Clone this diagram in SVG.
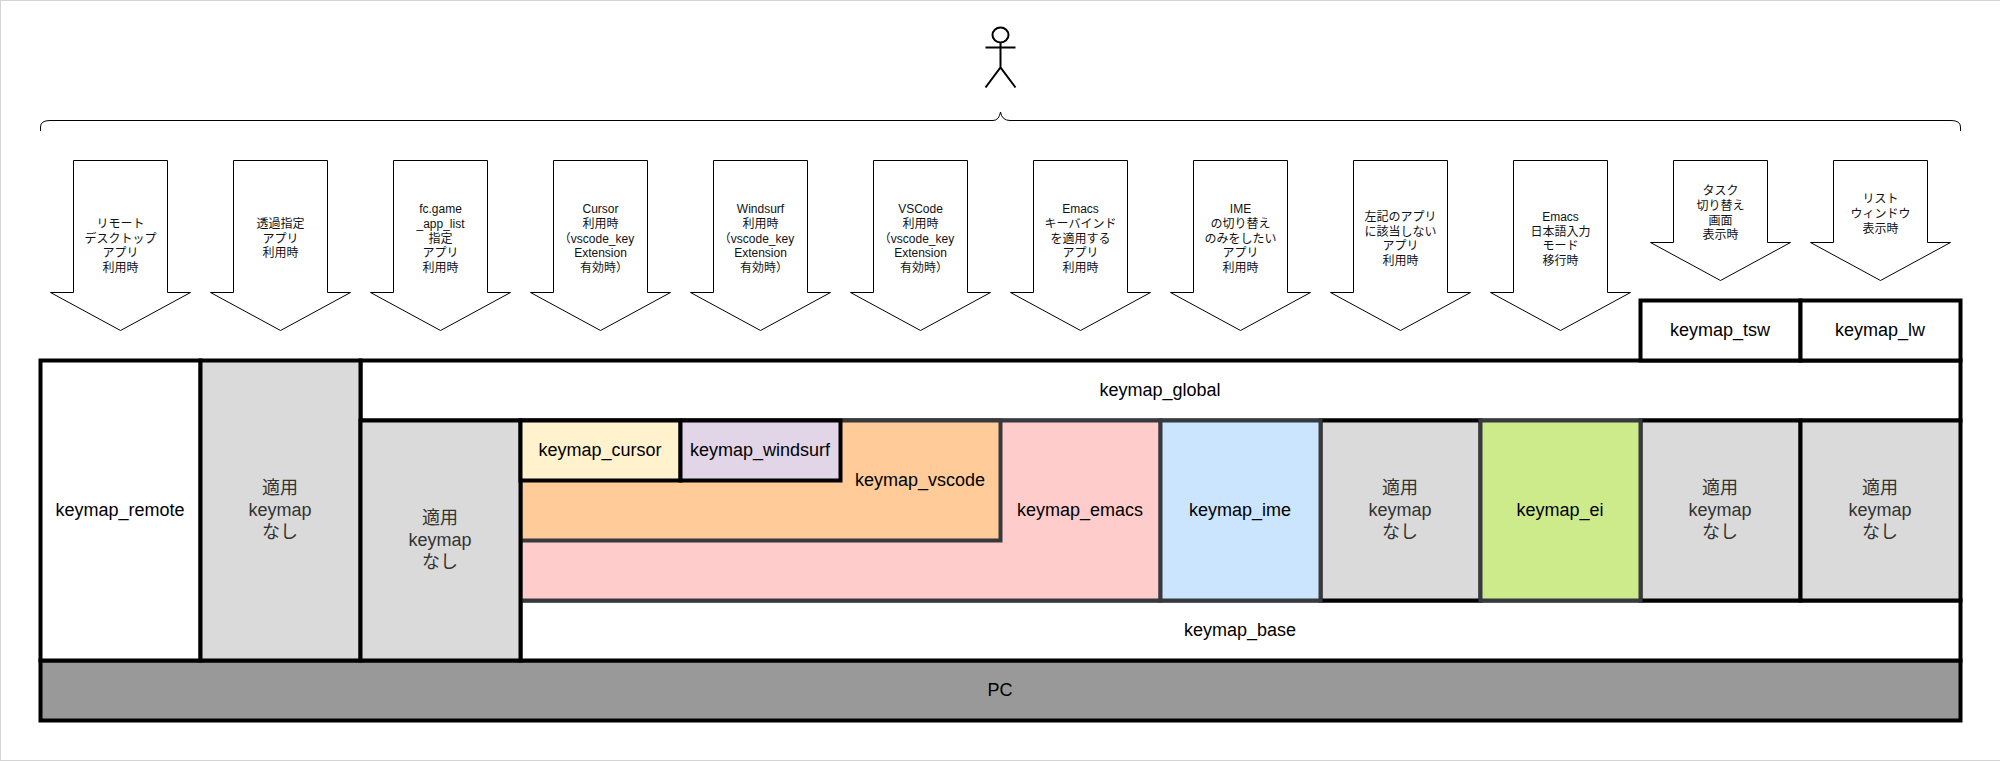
<svg xmlns="http://www.w3.org/2000/svg" width="2000" height="761" viewBox="0 0 2000 761">
<style>
text{font-family:"Liberation Sans","Noto Sans CJK JP",sans-serif;text-anchor:middle;fill:#000}
.s{font-size:12px;fill:#111}
.b{font-size:18px}
.g{fill:#333}
.a{fill:#fff;stroke:#000;stroke-width:1}
.bk{stroke:#000;stroke-width:4}
.dk{stroke:#36393d;stroke-width:4}
.n{fill:#dadada}
</style>
<rect id="frame" x="0.5" y="0.5" width="2000" height="760" fill="#fff" stroke="#d4d4d4" stroke-width="1"/>
<g id="actor" fill="none" stroke="#000" stroke-width="2">
<ellipse cx="1000.5" cy="35" rx="8" ry="7.5"/>
<path d="M1000.5 42.5V67.5M985.5 47.5H1015.5M985.5 87.5L1000.5 67.5L1015.5 87.5"/>
</g>
<g id="brace"><path d="M40.5 131V127Q40.5 120.5 50 120.5H993Q999 120.5 1000.5 112Q1002 120.5 1010 120.5H1951Q1960.5 120.5 1960.5 127V131" fill="none" stroke="#000" stroke-width="1"/></g>
<g id="connectors"></g>
<g id="arrow-remote"><polygon class="a" points="73.5,160.5 167.5,160.5 167.5,292.5 190.5,292.5 120.5,330.5 50.5,292.5 73.5,292.5"/><text class="s" x="120.5" y="228">リモート</text><text class="s" x="120.5" y="242.6">デスクトップ</text><text class="s" x="120.5" y="257.2">アプリ</text><text class="s" x="120.5" y="271.8">利用時</text></g>
<g id="arrow-passthrough"><polygon class="a" points="233.5,160.5 327.5,160.5 327.5,292.5 350.5,292.5 280.5,330.5 210.5,292.5 233.5,292.5"/><text class="s" x="280.5" y="228">透過指定</text><text class="s" x="280.5" y="242.6">アプリ</text><text class="s" x="280.5" y="257.2">利用時</text></g>
<g id="arrow-game"><polygon class="a" points="393.5,160.5 487.5,160.5 487.5,292.5 510.5,292.5 440.5,330.5 370.5,292.5 393.5,292.5"/><text class="s" x="440.5" y="213.4">fc.game</text><text class="s" x="440.5" y="228">_app_list</text><text class="s" x="440.5" y="242.6">指定</text><text class="s" x="440.5" y="257.2">アプリ</text><text class="s" x="440.5" y="271.8">利用時</text></g>
<g id="arrow-cursor"><polygon class="a" points="553.5,160.5 647.5,160.5 647.5,292.5 670.5,292.5 600.5,330.5 530.5,292.5 553.5,292.5"/><text class="s" x="600.5" y="213.4">Cursor</text><text class="s" x="600.5" y="228">利用時</text><text class="s" x="596.5" y="242.6">（vscode_key</text><text class="s" x="600.5" y="257.2">Extension</text><text class="s" x="604" y="271.8">有効時）</text></g>
<g id="arrow-windsurf"><polygon class="a" points="713.5,160.5 807.5,160.5 807.5,292.5 830.5,292.5 760.5,330.5 690.5,292.5 713.5,292.5"/><text class="s" x="760.5" y="213.4">Windsurf</text><text class="s" x="760.5" y="228">利用時</text><text class="s" x="756.5" y="242.6">（vscode_key</text><text class="s" x="760.5" y="257.2">Extension</text><text class="s" x="764" y="271.8">有効時）</text></g>
<g id="arrow-vscode"><polygon class="a" points="873.5,160.5 967.5,160.5 967.5,292.5 990.5,292.5 920.5,330.5 850.5,292.5 873.5,292.5"/><text class="s" x="920.5" y="213.4">VSCode</text><text class="s" x="920.5" y="228">利用時</text><text class="s" x="916.5" y="242.6">（vscode_key</text><text class="s" x="920.5" y="257.2">Extension</text><text class="s" x="924" y="271.8">有効時）</text></g>
<g id="arrow-emacs"><polygon class="a" points="1033.5,160.5 1127.5,160.5 1127.5,292.5 1150.5,292.5 1080.5,330.5 1010.5,292.5 1033.5,292.5"/><text class="s" x="1080.5" y="213.4">Emacs</text><text class="s" x="1080.5" y="228">キーバインド</text><text class="s" x="1080.5" y="242.6">を適用する</text><text class="s" x="1080.5" y="257.2">アプリ</text><text class="s" x="1080.5" y="271.8">利用時</text></g>
<g id="arrow-ime"><polygon class="a" points="1193.5,160.5 1287.5,160.5 1287.5,292.5 1310.5,292.5 1240.5,330.5 1170.5,292.5 1193.5,292.5"/><text class="s" x="1240.5" y="213.4">IME</text><text class="s" x="1240.5" y="228">の切り替え</text><text class="s" x="1240.5" y="242.6">のみをしたい</text><text class="s" x="1240.5" y="257.2">アプリ</text><text class="s" x="1240.5" y="271.8">利用時</text></g>
<g id="arrow-other"><polygon class="a" points="1353.5,160.5 1447.5,160.5 1447.5,292.5 1470.5,292.5 1400.5,330.5 1330.5,292.5 1353.5,292.5"/><text class="s" x="1400.5" y="221">左記のアプリ</text><text class="s" x="1400.5" y="235.6">に該当しない</text><text class="s" x="1400.5" y="250.2">アプリ</text><text class="s" x="1400.5" y="264.8">利用時</text></g>
<g id="arrow-ei"><polygon class="a" points="1513.5,160.5 1607.5,160.5 1607.5,292.5 1630.5,292.5 1560.5,330.5 1490.5,292.5 1513.5,292.5"/><text class="s" x="1560.5" y="221">Emacs</text><text class="s" x="1560.5" y="235.6">日本語入力</text><text class="s" x="1560.5" y="250.2">モード</text><text class="s" x="1560.5" y="264.8">移行時</text></g>
<g id="arrow-tsw"><polygon class="a" points="1673.5,160.5 1767.5,160.5 1767.5,242.5 1790.5,242.5 1720.5,280.5 1650.5,242.5 1673.5,242.5"/><text class="s" x="1720.5" y="195.4">タスク</text><text class="s" x="1720.5" y="210">切り替え</text><text class="s" x="1720.5" y="224.6">画面</text><text class="s" x="1720.5" y="239.2">表示時</text></g>
<g id="arrow-lw"><polygon class="a" points="1833.5,160.5 1927.5,160.5 1927.5,242.5 1950.5,242.5 1880.5,280.5 1810.5,242.5 1833.5,242.5"/><text class="s" x="1880.5" y="203.4">リスト</text><text class="s" x="1880.5" y="218">ウィンドウ</text><text class="s" x="1880.5" y="232.6">表示時</text></g>
<g id="pc"><rect class="bk" x="40.5" y="660.5" width="1920" height="60" fill="#999"/><text class="b" x="1000" y="696">PC</text></g>
<g id="keymap_base"><rect class="bk" x="520.5" y="600.5" width="1440" height="60" fill="#fff"/><text class="b" x="1240" y="636">keymap_base</text></g>
<g id="keymap_global"><rect class="bk" x="360.5" y="360.5" width="1600" height="60" fill="#fff"/><text class="b" x="1160" y="396">keymap_global</text></g>
<g id="keymap_remote"><rect class="bk" x="40.5" y="360.5" width="160" height="300" fill="#fff"/><text class="b" x="120" y="516">keymap_remote</text></g>
<g id="none-passthrough"><rect class="bk n" x="200.5" y="360.5" width="160" height="300"/><text class="b g" x="280" y="494.4">適用</text><text class="b g" x="280" y="516">keymap</text><text class="b g" x="280" y="537.6">なし</text></g>
<g id="keymap_emacs"><rect class="dk" x="520.5" y="420.5" width="640" height="180" fill="#fcc"/><text class="b" x="1080" y="516">keymap_emacs</text></g>
<g id="keymap_vscode"><rect class="dk" x="520.5" y="420.5" width="480" height="120" fill="#fc9"/><text class="b" x="920" y="486">keymap_vscode</text></g>
<g id="none-game"><rect class="bk n" x="360.5" y="420.5" width="160" height="240"/><text class="b g" x="440" y="524.4">適用</text><text class="b g" x="440" y="546">keymap</text><text class="b g" x="440" y="567.6">なし</text></g>
<g id="none-other"><rect class="bk n" x="1320.5" y="420.5" width="160" height="180"/><text class="b g" x="1400" y="494.4">適用</text><text class="b g" x="1400" y="516">keymap</text><text class="b g" x="1400" y="537.6">なし</text></g>
<g id="none-tsw"><rect class="bk n" x="1640.5" y="420.5" width="160" height="180"/><text class="b g" x="1720" y="494.4">適用</text><text class="b g" x="1720" y="516">keymap</text><text class="b g" x="1720" y="537.6">なし</text></g>
<g id="none-lw"><rect class="bk n" x="1800.5" y="420.5" width="160" height="180"/><text class="b g" x="1880" y="494.4">適用</text><text class="b g" x="1880" y="516">keymap</text><text class="b g" x="1880" y="537.6">なし</text></g>
<g id="keymap_ime"><rect class="dk" x="1160.5" y="420.5" width="160" height="180" fill="#cce5ff"/><text class="b" x="1240" y="516">keymap_ime</text></g>
<g id="keymap_ei"><rect class="dk" x="1480.5" y="420.5" width="160" height="180" fill="#cdeb8b"/><text class="b" x="1560" y="516">keymap_ei</text></g>
<g id="keymap_cursor"><rect class="bk" x="520.5" y="420.5" width="160" height="60" fill="#fff2cc"/><text class="b" x="600" y="456">keymap_cursor</text></g>
<g id="keymap_windsurf"><rect class="bk" x="680.5" y="420.5" width="160" height="60" fill="#e1d5e7"/><text class="b" x="760" y="456">keymap_windsurf</text></g>
<g id="keymap_tsw"><rect class="bk" x="1640.5" y="300.5" width="160" height="60" fill="#fff"/><text class="b" x="1720" y="336">keymap_tsw</text></g>
<g id="keymap_lw"><rect class="bk" x="1800.5" y="300.5" width="160" height="60" fill="#fff"/><text class="b" x="1880" y="336">keymap_lw</text></g>
</svg>
